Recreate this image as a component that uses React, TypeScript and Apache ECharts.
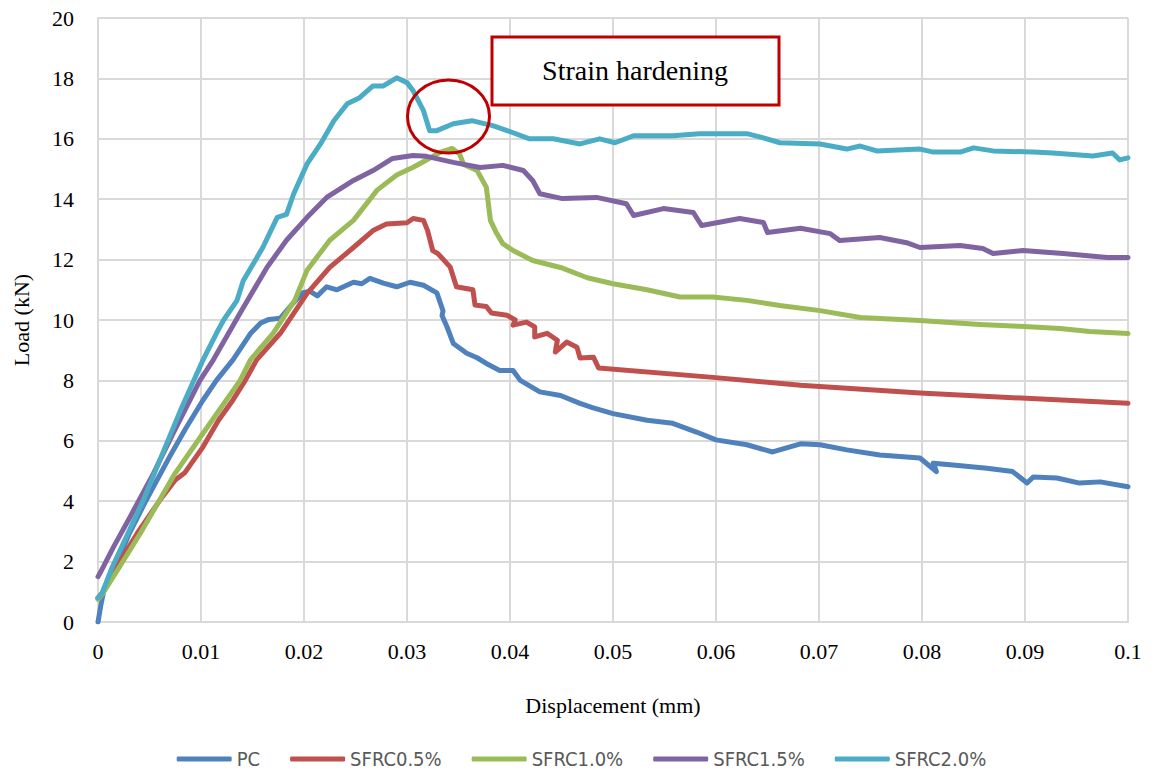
import React, { useEffect, useRef } from "react";
import * as echarts from "echarts";

const seriesNames = ["PC", "SFRC0.5%", "SFRC1.0%", "SFRC1.5%", "SFRC2.0%"];
const seriesColors = ["#4F81BD", "#C0504D", "#9BBB59", "#8064A2", "#4BACC6"];

const pcData = [
  [0, 0], [0.0003, 0.6], [0.0006, 1.1], [0.0017, 1.85], [0.003, 2.9], [0.0047, 4.05], [0.007, 5.5],
  [0.0085, 6.4], [0.0102, 7.35], [0.0115, 8.0], [0.0131, 8.68], [0.0148, 9.55], [0.0158, 9.9],
  [0.0166, 10.02], [0.0177, 10.06], [0.0188, 10.5], [0.0199, 10.9], [0.0206, 10.95], [0.0213, 10.8],
  [0.0222, 11.1], [0.0232, 11.0], [0.0248, 11.25], [0.0256, 11.2], [0.0264, 11.38], [0.0277, 11.22],
  [0.029, 11.1], [0.0303, 11.25], [0.0316, 11.15], [0.0329, 10.9], [0.0335, 10.3], [0.0334, 10.15],
  [0.0339, 9.76], [0.0345, 9.22], [0.0352, 9.05], [0.0358, 8.9], [0.0368, 8.75], [0.0377, 8.56],
  [0.039, 8.33], [0.0403, 8.33], [0.041, 8.0], [0.0429, 7.62], [0.0449, 7.5], [0.0468, 7.24],
  [0.048, 7.1], [0.05, 6.9], [0.0533, 6.68], [0.0558, 6.58], [0.0581, 6.29], [0.06, 6.03],
  [0.063, 5.87], [0.0655, 5.63], [0.0682, 5.9], [0.0701, 5.87], [0.0727, 5.7], [0.0759, 5.53],
  [0.0798, 5.43], [0.0808, 5.15], [0.0814, 4.98], [0.0811, 5.26], [0.083, 5.2], [0.0863, 5.09],
  [0.0888, 4.98], [0.0902, 4.6], [0.0908, 4.8], [0.0931, 4.77], [0.0953, 4.6], [0.0973, 4.64],
  [0.1, 4.48],
];

const sfrc05Data = [
  [0, 0.8], [0.0005, 1.0], [0.0018, 1.83], [0.0038, 2.93], [0.006, 4.03], [0.0075, 4.7],
  [0.0084, 4.93], [0.0102, 5.8], [0.0117, 6.68], [0.013, 7.3], [0.0143, 8.0], [0.0154, 8.68],
  [0.0177, 9.56], [0.0203, 10.88], [0.0225, 11.74], [0.0248, 12.4], [0.0267, 12.96], [0.028, 13.18],
  [0.03, 13.22], [0.0306, 13.36], [0.0316, 13.3], [0.032, 12.96], [0.0325, 12.3], [0.033, 12.2],
  [0.0342, 11.75], [0.0348, 11.1], [0.0364, 11.0], [0.0366, 10.5], [0.0377, 10.45], [0.0382, 10.23],
  [0.0397, 10.16], [0.0405, 10.0], [0.0403, 9.83], [0.0416, 9.93], [0.0424, 9.77], [0.0424, 9.44],
  [0.0436, 9.56], [0.0446, 9.33], [0.0444, 8.94], [0.0455, 9.27], [0.0465, 9.1], [0.0468, 8.74],
  [0.0481, 8.77], [0.0486, 8.41], [0.0597, 8.1], [0.0682, 7.84], [0.0798, 7.58], [0.1, 7.24],
];

const sfrc10Data = [
  [0, 0.75], [0.0005, 0.96], [0.0021, 1.83], [0.0041, 2.93], [0.0075, 4.93], [0.0102, 6.25],
  [0.0138, 8.0], [0.0148, 8.68], [0.017, 9.56], [0.0191, 10.65], [0.0203, 11.65], [0.0225, 12.64],
  [0.0248, 13.3], [0.0271, 14.3], [0.029, 14.8], [0.0306, 15.06], [0.0319, 15.3], [0.0332, 15.55],
  [0.0344, 15.68], [0.0351, 15.5], [0.0355, 15.15], [0.0368, 14.95], [0.0377, 14.4], [0.0381, 13.3],
  [0.0387, 12.87], [0.0393, 12.53], [0.0403, 12.3], [0.0422, 11.97], [0.0449, 11.74], [0.0475, 11.4],
  [0.05, 11.2], [0.0533, 11.0], [0.0565, 10.76], [0.0597, 10.76], [0.063, 10.65], [0.0662, 10.48],
  [0.0701, 10.31], [0.074, 10.08], [0.0798, 9.98], [0.0856, 9.85], [0.0895, 9.79], [0.0934, 9.72],
  [0.0963, 9.62], [0.1, 9.55],
];

const sfrc15Data = [
  [0, 1.5], [0.0002, 1.62], [0.0015, 2.48], [0.0031, 3.47], [0.0054, 4.93], [0.0073, 6.25],
  [0.0099, 8.0], [0.0112, 8.68], [0.0138, 10.23], [0.0164, 11.74], [0.0183, 12.64], [0.0203, 13.4],
  [0.0222, 14.06], [0.0248, 14.62], [0.0267, 14.95], [0.0286, 15.35], [0.0306, 15.45], [0.0319, 15.42],
  [0.0345, 15.22], [0.0371, 15.05], [0.0393, 15.12], [0.0413, 14.95], [0.0422, 14.62], [0.0429, 14.18],
  [0.0451, 14.02], [0.0484, 14.06], [0.0513, 13.85], [0.052, 13.46], [0.0549, 13.69], [0.0578, 13.56],
  [0.0586, 13.13], [0.0623, 13.36], [0.0646, 13.23], [0.065, 12.9], [0.0682, 13.04], [0.0711, 12.86],
  [0.072, 12.63], [0.0759, 12.73], [0.0785, 12.56], [0.0798, 12.4], [0.0837, 12.47], [0.0859, 12.37],
  [0.0869, 12.2], [0.0898, 12.3], [0.0937, 12.2], [0.098, 12.07], [0.1, 12.07],
];

const sfrc20Data = [
  [0, 0.8], [0.0004, 0.96], [0.0014, 1.83], [0.0029, 2.93], [0.0044, 4.03], [0.006, 5.36],
  [0.008, 7.0], [0.0093, 8.0], [0.0102, 8.68], [0.0115, 9.56], [0.0122, 10.0], [0.0135, 10.65],
  [0.0141, 11.3], [0.016, 12.4], [0.0174, 13.4], [0.0183, 13.5], [0.019, 14.18], [0.0203, 15.17],
  [0.0216, 15.83], [0.0229, 16.6], [0.0242, 17.16], [0.0254, 17.36], [0.0267, 17.75], [0.0277, 17.75],
  [0.029, 18.02], [0.03, 17.86], [0.0306, 17.59], [0.0316, 16.93], [0.0322, 16.27], [0.0329, 16.27],
  [0.0345, 16.5], [0.0363, 16.6], [0.0384, 16.43], [0.0403, 16.2], [0.0419, 16.0], [0.0442, 16.0],
  [0.0468, 15.83], [0.0487, 16.0], [0.0502, 15.87], [0.052, 16.1], [0.0558, 16.1], [0.0584, 16.17],
  [0.063, 16.17], [0.0646, 16.03], [0.0662, 15.87], [0.0701, 15.83], [0.0727, 15.66], [0.074, 15.76],
  [0.0756, 15.6], [0.0798, 15.66], [0.0811, 15.56], [0.0837, 15.56], [0.085, 15.7], [0.0869, 15.6],
  [0.0908, 15.56], [0.0927, 15.53], [0.0966, 15.43], [0.0985, 15.53], [0.0992, 15.3], [0.1, 15.37],
];

const allData = [pcData, sfrc05Data, sfrc10Data, sfrc15Data, sfrc20Data];

const xAxisTitle = "Displacement (mm)";
const yAxisTitle = "Load (kN)";
const annotationText = "Strain hardening";

const serif = "Liberation Serif";
const legendFont = "DejaVu Sans Condensed, Roboto, sans-serif";

export default function App() {
  const ref = useRef<HTMLDivElement>(null);

  useEffect(() => {
    document.body.style.margin = "0";
    if (!ref.current) return;
    const chart = echarts.init(ref.current, null, { renderer: "svg" });
    const option = {
      animation: false,
      backgroundColor: "#ffffff",
      grid: { left: 98, right: 35, top: 18, bottom: 156, containLabel: false },
      legend: {
        bottom: 4,
        left: "center",
        itemWidth: 55,
        itemHeight: 5,
        itemGap: 30,
        icon: "roundRect",
        textStyle: {
          fontFamily: legendFont,
          fontSize: 20,
          color: "#595959",
        },
        data: seriesNames,
      },
      xAxis: {
        type: "value",
        min: 0,
        max: 0.1,
        interval: 0.01,
        name: xAxisTitle,
        nameLocation: "middle",
        nameGap: 72,
        nameTextStyle: { fontFamily: serif, fontSize: 22, color: "#000" },
        axisLine: { lineStyle: { color: "#d9d9d9", width: 2 } },
        axisTick: { show: false },
        splitLine: { show: true, lineStyle: { color: "#d9d9d9", width: 2 } },
        axisLabel: {
          margin: 18,
          fontFamily: serif,
          fontSize: 22,
          color: "#000",
          formatter: (v: number) => String(Number(v.toFixed(2))),
        },
      },
      yAxis: {
        type: "value",
        min: 0,
        max: 20,
        interval: 2,
        name: yAxisTitle,
        nameLocation: "middle",
        nameGap: 66,
        nameTextStyle: { fontFamily: serif, fontSize: 22, color: "#000" },
        axisLine: { show: true, lineStyle: { color: "#d9d9d9", width: 2 } },
        axisTick: { show: false },
        splitLine: { show: true, lineStyle: { color: "#d9d9d9", width: 2 } },
        axisLabel: {
          margin: 24,
          fontFamily: serif,
          fontSize: 22,
          color: "#000",
        },
      },
      series: allData.map((d, i) => ({
        name: seriesNames[i],
        type: "line",
        data: d,
        showSymbol: false,
        symbol: "none",
        lineStyle: { color: seriesColors[i], width: 5, cap: "round", join: "round" },
        itemStyle: { color: seriesColors[i] },
        z: 2 + i,
      })),
      graphic: [
        {
          type: "rect",
          z: 100,
          shape: { x: 492, y: 37, width: 287, height: 68 },
          style: { fill: "#ffffff", stroke: "#C00000", lineWidth: 3 },
        },
        {
          type: "text",
          z: 101,
          x: 635,
          y: 70,
          style: {
            text: annotationText,
            fontFamily: serif,
            fontSize: 28,
            fill: "#000",
            align: "center",
            verticalAlign: "middle",
          },
        },
        {
          type: "ellipse",
          z: 100,
          shape: { cx: 448.5, cy: 116.5, rx: 41, ry: 36.5 },
          style: { fill: "none", stroke: "#C00000", lineWidth: 3 },
        },
      ],
    };
    chart.setOption(option as any);
    return () => chart.dispose();
  }, []);

  return <div ref={ref} style={{ width: 1163, height: 778 }} />;
}
